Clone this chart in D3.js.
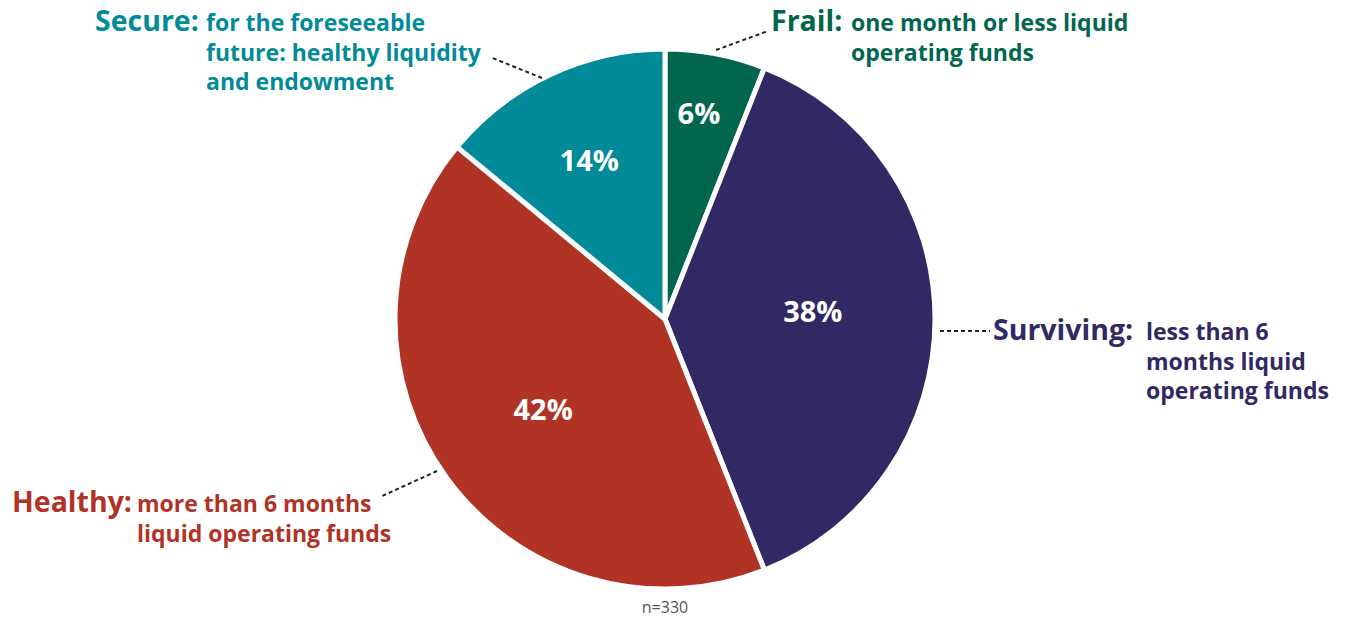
<!DOCTYPE html>
<html>
<head>
<meta charset="utf-8">
<script src="https://cdn.jsdelivr.net/npm/d3@7"></script>
<style>
  html, body { margin: 0; padding: 0; background: #ffffff; }
  svg { display: block; }
  text { font-family: "Open Sans", "Noto Sans", sans-serif; }
</style>
</head>
<body>
<svg id="chart" width="1347" height="620"></svg>
<script>
// Financial health categories, clockwise from 12 o'clock
const categories = ["Frail", "Surviving", "Healthy", "Secure"];
const shares = [6, 38, 42, 14];
const descriptions = [
  ["one month or less liquid", "operating funds"],
  ["less than 6", "months liquid", "operating funds"],
  ["more than 6 months", "liquid operating funds"],
  ["for the foreseeable", "future: healthy liquidity", "and endowment"]
];
const sampleNote = "n=330";

// Styling and layout
const colors = ["#02664f", "#312963", "#b03326", "#018a97"];
// Percent label placement: distance from centre and angular nudge (degrees)
const labelRadius = [208, 148, 152, 176];
const labelNudge = [-1.4, -2.7, -0.7, -0.3];
// Callout placement: title anchor point, and leader line start/end
const callouts = [
  { x: 771, y: 31, leader: [[716, 50], [768, 31]], descDx: 80 },
  { x: 993, y: 340, leader: [[940, 331], [990, 331]], descDx: 153 },
  { x: 12, y: 512, leader: [[437, 471], [380, 497]], descDx: 125 },
  { x: 95, y: 31, leader: [[542, 78], [490, 57]], descDx: 111 }
];

const svg = d3.select("#chart");
const cx = 665, cy = 319, radius = 270;

const pie = d3.pie().sort(null).value(d => d.value);
const arcs = pie(categories.map((c, i) => ({ name: c, value: shares[i], i })));

const arc = d3.arc().innerRadius(0).outerRadius(radius);

const g = svg.append("g").attr("transform", `translate(${cx},${cy})`);

g.selectAll("path.slice")
  .data(arcs)
  .join("path")
  .attr("class", "slice")
  .attr("d", arc)
  .attr("fill", d => colors[d.data.i])
  .attr("stroke", "#ffffff")
  .attr("stroke-width", 5)
  .attr("stroke-linejoin", "round");

// Percent labels inside the slices
g.selectAll("text.pct")
  .data(arcs)
  .join("text")
  .attr("class", "pct")
  .attr("transform", d => {
    const a = (d.startAngle + d.endAngle) / 2 + labelNudge[d.data.i] * Math.PI / 180;
    const r = labelRadius[d.data.i];
    return `translate(${r * Math.sin(a)},${-r * Math.cos(a)})`;
  })
  .attr("text-anchor", "middle")
  .attr("dy", "0.36em")
  .attr("fill", "#ffffff")
  .attr("font-size", 29)
  .attr("font-weight", 700)
  .text(d => d.data.value + "%");

// Dashed leader lines
svg.selectAll("path.leader")
  .data(callouts)
  .join("path")
  .attr("class", "leader")
  .attr("d", d => d3.line()(d.leader))
  .attr("fill", "none")
  .attr("stroke", "#222222")
  .attr("stroke-width", 2)
  .attr("stroke-dasharray", "4,3");

// Category callouts: bold title followed by a wrapped description
const lineH = 29.5;
categories.forEach((c, i) => {
  const co = callouts[i];
  const t = svg.append("text")
    .attr("fill", colors[i]);
  t.append("tspan")
    .attr("x", co.x)
    .attr("y", co.y)
    .attr("font-size", 28.5)
    .attr("font-weight", 700)
    .text(c + ":");
  descriptions[i].forEach((line, j) => {
    t.append("tspan")
      .attr("x", co.x + co.descDx)
      .attr("y", co.y + j * lineH)
      .attr("font-size", 23)
      .attr("font-weight", 700)
      .text(line);
  });
});

// Sample size note
svg.append("text")
  .attr("x", cx)
  .attr("y", 613)
  .attr("text-anchor", "middle")
  .attr("fill", "#555555")
  .attr("font-size", 16)
  .text(sampleNote);
</script>
</body>
</html>
